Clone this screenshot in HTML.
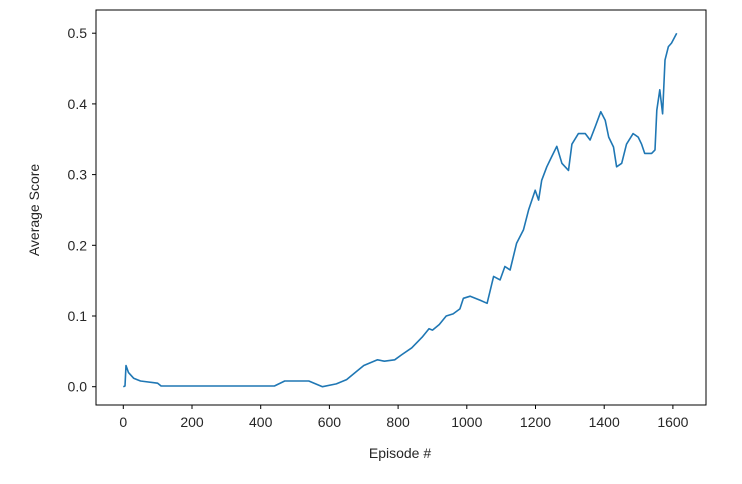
<!DOCTYPE html>
<html><head><meta charset="utf-8"><style>
body{margin:0;background:#fff;}
svg{display:block;font-family:"Liberation Sans","DejaVu Sans",sans-serif;}
</style></head><body>
<svg id="chart" width="742" height="484">
<rect x="96" y="10" width="610" height="395" fill="#fff" stroke="#000" stroke-width="1"/>
<g id="xticks"></g>
<g id="yticks"></g>
<path id="line" fill="none" stroke="#1f77b4" stroke-width="1.6" stroke-linejoin="round"/>
<text x="400" y="458" font-size="14" text-anchor="middle" fill="#262626">Episode #</text>
<text transform="translate(39,210) rotate(-90)" font-size="14" text-anchor="middle" fill="#262626">Average Score</text>
</svg>
<script>
const episodes=[0,5,8,15,30,50,100,110,440,470,540,580,620,650,680,700,740,760,790,810,840,870,890,900,920,940,960,980,990,1010,1040,1059,1078,1097,1111,1126,1145,1165,1180,1199,1209,1218,1233,1247,1262,1277,1296,1306,1325,1345,1359,1374,1390,1403,1413,1427,1436,1451,1465,1484,1499,1509,1518,1538,1548,1553,1562,1570,1577,1587,1596,1611];
const scores=[0,0.001,0.03,0.02,0.012,0.008,0.005,0.001,0.001,0.008,0.008,0,0.004,0.01,0.022,0.03,0.038,0.036,0.038,0.045,0.055,0.07,0.082,0.08,0.088,0.1,0.103,0.11,0.125,0.128,0.122,0.118,0.156,0.151,0.17,0.165,0.203,0.222,0.25,0.278,0.264,0.292,0.311,0.325,0.34,0.316,0.306,0.343,0.358,0.358,0.349,0.368,0.389,0.377,0.353,0.339,0.311,0.316,0.343,0.358,0.353,0.343,0.33,0.33,0.335,0.391,0.42,0.386,0.462,0.481,0.486,0.5];
const xTicks=[0,200,400,600,800,1000,1200,1400,1600];
const yTicks=[0.0,0.1,0.2,0.3,0.4,0.5];
const X=v=>123.3+v*0.3435;
const Y=v=>386.7-v*707;
const ns="http://www.w3.org/2000/svg";
const xg=document.getElementById('xticks'),yg=document.getElementById('yticks');
xTicks.forEach(t=>{
 const l=document.createElementNS(ns,'line');
 
 
 l.setAttribute('x1',X(t));l.setAttribute('x2',X(t));l.setAttribute('y1',405);l.setAttribute('y2',409);l.setAttribute('stroke','#000');
 xg.appendChild(l);
 const tx=document.createElementNS(ns,'text');
 
 
 tx.setAttribute('x',X(t));tx.setAttribute('y',427);tx.setAttribute('font-size','14');tx.setAttribute('text-anchor','middle');tx.setAttribute('fill','#262626');
 tx.textContent=t;xg.appendChild(tx);
});
yTicks.forEach(t=>{
 const l=document.createElementNS(ns,'line');
 
 
 l.setAttribute('x1',92);l.setAttribute('x2',96);l.setAttribute('y1',Y(t));l.setAttribute('y2',Y(t));l.setAttribute('stroke','#000');
 yg.appendChild(l);
 const tx=document.createElementNS(ns,'text');
 
 
 tx.setAttribute('x',87);tx.setAttribute('y',Y(t)+5);tx.setAttribute('font-size','14');tx.setAttribute('text-anchor','end');tx.setAttribute('fill','#262626');
 tx.textContent=t.toFixed(1);yg.appendChild(tx);
});
document.getElementById('line').setAttribute('d',episodes.map((e,i)=>(i?'L':'M')+X(e).toFixed(1)+','+Y(scores[i]).toFixed(1)).join(''));
</script>
</body></html>
